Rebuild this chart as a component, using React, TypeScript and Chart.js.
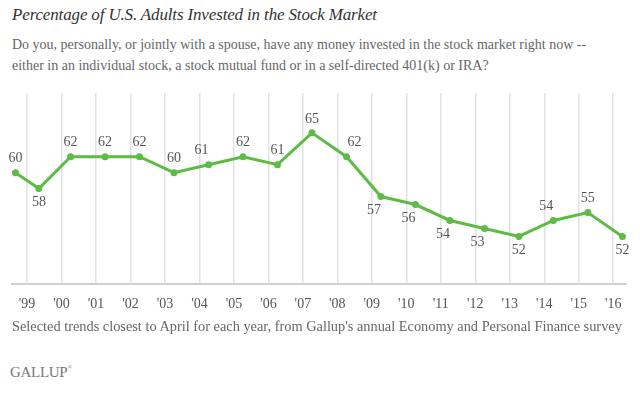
import React, { useEffect, useRef } from "react";
import { Chart, registerables } from "chart.js";

Chart.register(...registerables);

const surveyDates = [
  "1998-09-01", "1999-05-07", "2000-04-07", "2001-04-07", "2002-04-07",
  "2003-04-07", "2004-04-07", "2005-04-07", "2006-04-07", "2007-04-07",
  "2008-04-07", "2009-04-07", "2010-04-07", "2011-04-07", "2012-04-07",
  "2013-04-07", "2014-04-07", "2015-04-07", "2016-04-07",
];
const investedPct = [60, 58, 62, 62, 62, 60, 61, 62, 61, 65, 62, 57, 56, 54, 53, 52, 54, 55, 52];
const labelPlacement = [
  "above", "below", "above", "above", "above", "above", "above-left", "above", "above", "above",
  "above-right", "below-left", "below-left", "below-left", "below-left", "below", "above-left", "above", "below",
];
const tickYears = [1999, 2000, 2001, 2002, 2003, 2004, 2005, 2006, 2007, 2008, 2009, 2010, 2011, 2012, 2013, 2014, 2015, 2016];
const tickLabels = ["'99", "'00", "'01", "'02", "'03", "'04", "'05", "'06", "'07", "'08", "'09", "'10", "'11", "'12", "'13", "'14", "'15", "'16"];

const TITLE = "Percentage of U.S. Adults Invested in the Stock Market";
const SUBTITLE_1 = "Do you, personally, or jointly with a spouse, have any money invested in the stock market right now --";
const SUBTITLE_2 = "either in an individual stock, a stock mutual fund or in a self-directed 401(k) or IRA?";
const FOOTER = "Selected trends closest to April for each year, from Gallup's annual Economy and Personal Finance survey";

function toFractionalYear(d: string): number {
  const [y, m, day] = d.split("-").map(Number);
  const start = Date.UTC(y, 0, 1);
  const t = Date.UTC(y, m - 1, day);
  const end = Date.UTC(y + 1, 0, 1);
  return y + (t - start) / (end - start);
}

const GREEN = "#5dbb46";
const SERIF = '"Liberation Serif", "DejaVu Serif", serif';

const labelPlugin = {
  id: "pointLabels",
  afterDatasetsDraw(chart: any) {
    const meta = chart.getDatasetMeta(0);
    const ctx = chart.ctx;
    ctx.save();
    ctx.font = `14px ${SERIF}`;
    ctx.fillStyle = "#555555";
    ctx.textAlign = "center";
    ctx.textBaseline = "middle";
    meta.data.forEach((el: any, i: number) => {
      const place = labelPlacement[i];
      let dx = 0;
      let dy = place.startsWith("above") ? -14 : 14;
      if (place.endsWith("left")) dx = -7;
      if (place.endsWith("right")) dx = 8;
      ctx.fillText(String(investedPct[i]), el.x + dx, el.y + dy);
    });
    ctx.restore();
  },
};

export default function App() {
  const canvasRef = useRef<HTMLCanvasElement | null>(null);

  useEffect(() => {
    if (!canvasRef.current) return;
    const points = surveyDates.map((d, i) => ({ x: toFractionalYear(d), y: investedPct[i] }));
    const chart = new Chart(canvasRef.current, {
      type: "line",
      data: {
        datasets: [
          {
            data: points,
            borderColor: GREEN,
            backgroundColor: GREEN,
            borderWidth: 3,
            pointRadius: 3.5,
            pointBackgroundColor: GREEN,
            pointBorderWidth: 0,
            tension: 0,
          },
        ],
      },
      options: {
        animation: false,
        responsive: false,
        maintainAspectRatio: false,
        events: [],
        layout: { padding: { left: 12, right: 14, top: 13, bottom: 0 } },
        plugins: { legend: { display: false }, tooltip: { enabled: false }, title: { display: false } },
        scales: {
          x: {
            type: "linear",
            min: 1998.565,
            max: 2016.37,
            afterBuildTicks: (scale: any) => {
              scale.ticks = tickYears.map((v) => ({ value: v }));
            },
            grid: { color: "#e2e2e2", lineWidth: 1.5, drawTicks: false },
            border: { display: true, color: "#d0d0d0", width: 2 },
            ticks: {
              autoSkip: false,
              maxRotation: 0,
              padding: 12,
              color: "#555555",
              font: { family: SERIF, size: 14 },
              callback: (v: any) => {
                const idx = tickYears.indexOf(Number(v));
                return idx >= 0 ? tickLabels[idx] : "";
              },
            },
          },
          y: { display: false, min: 46, max: 70 },
        },
      },
      plugins: [labelPlugin],
    });
    return () => chart.destroy();
  }, []);

  return (
    <div style={{ position: "absolute", left: 0, top: 0, width: 640, height: 396, background: "#fff", fontFamily: SERIF, overflow: "hidden" }}>
      <div style={{ position: "absolute", left: 12, top: 5, fontSize: 17, letterSpacing: -0.15, fontStyle: "italic", color: "#333", whiteSpace: "nowrap" }}>{TITLE}</div>
      <div style={{ position: "absolute", left: 12, top: 34, fontSize: 14, lineHeight: "21px", color: "#666", whiteSpace: "nowrap" }}>
        <div>{SUBTITLE_1}</div>
        <div>{SUBTITLE_2}</div>
      </div>
      <div style={{ position: "absolute", left: 0, top: 80, width: 640, height: 245 }}>
        <canvas ref={canvasRef} width={640} height={245} style={{ display: "block" }} />
      </div>
      <div style={{ position: "absolute", left: 12, top: 318, fontSize: 14.35, color: "#666", whiteSpace: "nowrap" }}>{FOOTER}</div>
      <div style={{ position: "absolute", left: 10, top: 364, fontSize: 15, color: "#777", whiteSpace: "nowrap", letterSpacing: -0.3 }}>
        GALLUP<span style={{ fontSize: 6, verticalAlign: "top" }}>®</span>
      </div>
    </div>
  );
}
